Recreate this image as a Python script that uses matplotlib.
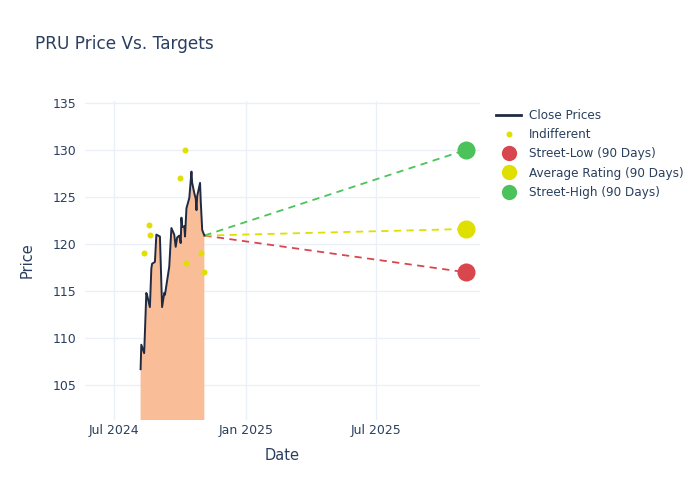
import matplotlib
matplotlib.use("Agg")
import matplotlib.pyplot as plt
import matplotlib.dates as mdates
from matplotlib.lines import Line2D
import pandas as pd

# close prices (traced)
close_dates = ["2024-08-07", "2024-08-08", "2024-08-12", "2024-08-15", "2024-08-16",
               "2024-08-20", "2024-08-22", "2024-08-23", "2024-08-27", "2024-08-29",
               "2024-09-03", "2024-09-06", "2024-09-09", "2024-09-10", "2024-09-16",
               "2024-09-19", "2024-09-23", "2024-09-25", "2024-09-27", "2024-09-30",
               "2024-10-02", "2024-10-03", "2024-10-04", "2024-10-07", "2024-10-08",
               "2024-10-10", "2024-10-14", "2024-10-17", "2024-10-18", "2024-10-21",
               "2024-10-23", "2024-10-24", "2024-10-25", "2024-10-29", "2024-10-30",
               "2024-11-01", "2024-11-04"]
close_prices = [106.7, 109.3, 108.4, 114.8, 114.6,
                113.3, 117.4, 117.9, 118.1, 121.0,
                120.8, 113.3, 114.8, 114.6, 117.6,
                121.7, 121.0, 119.7, 120.7, 120.9,
                120.1, 122.8, 121.8, 121.9, 120.8,
                123.8, 124.9, 127.7, 126.5, 125.4,
                124.8, 123.6, 125.1, 126.5, 124.5,
                121.5, 120.9]

# analyst ratings: Indifferent
ind_dates = ["2024-08-12", "2024-08-19", "2024-08-20", "2024-10-01", "2024-10-08",
             "2024-10-09", "2024-10-31", "2024-11-04"]
ind_prices = [119, 122, 121, 127, 130, 118, 119, 117]

# 90 day targets
target_date = "2025-11-04"
target_names = ["Street-Low (90 Days)", "Average Rating (90 Days)", "Street-High (90 Days)"]
target_values = [117.0, 121.6, 130.0]
target_colors = ["#d9474e", "#dfdf00", "#4cc35a"]

x_range = ["2024-05-21", "2025-11-24"]
y_range = [101.3, 135.2]

cd = pd.to_datetime(close_dates)
idt = pd.to_datetime(ind_dates)
td = pd.to_datetime(target_date)

text_c = "#2a3f5f"
grid_c = "#ebf0f8"

fig = plt.figure(figsize=(7, 5), dpi=100)
ax = fig.add_axes([0.121, 0.16, 0.565, 0.638])

ax.fill_between(cd, close_prices, 0, color="#f9bd98", lw=0, zorder=1)
ax.plot(cd, close_prices, color="#1f2a44", lw=1.4, zorder=3)
ax.plot(idt, ind_prices, "o", color="#dfdf00", ms=4.3, mec="none", zorder=4)

for name, v, c in zip(target_names, target_values, target_colors):
    ax.plot([cd[-1], td], [close_prices[-1], v], ls=(0, (4, 3)), color=c, lw=1.3, zorder=2)
    ax.plot([td], [v], "o", color=c, ms=13, mec="none", zorder=5)

ax.set_xlim(pd.to_datetime(x_range[0]), pd.to_datetime(x_range[1]))
ax.set_ylim(*y_range)
ax.set_yticks([105, 110, 115, 120, 125, 130, 135])
ax.set_xticks(pd.to_datetime(["2024-07-01", "2025-01-01", "2025-07-01"]))
ax.xaxis.set_major_formatter(mdates.DateFormatter("%b %Y"))
ax.grid(True, color=grid_c, lw=1)
ax.set_axisbelow(True)
for s in ax.spines.values():
    s.set_visible(False)
ax.tick_params(length=0, colors=text_c, labelsize=9, pad=6)
ax.tick_params(axis="x", pad=3)
ax.set_xlabel("Date", color=text_c, fontsize=10.5, labelpad=8)
ax.set_ylabel("Price", color=text_c, fontsize=10.5, labelpad=13)

fig.text(0.05, 0.912, "PRU Price Vs. Targets", color=text_c, fontsize=12.2, va="center")

handles = [Line2D([], [], color="#1f2a44", lw=2),
           Line2D([], [], ls="none", marker="o", color="#dfdf00", ms=4.3, mec="none")]
for c in target_colors:
    handles.append(Line2D([], [], ls="none", marker="o", color=c, ms=11, mec="none"))
labels = ["Close Prices", "Indifferent"] + target_names
leg = fig.legend(handles, labels, loc="upper left", bbox_to_anchor=(0.702, 0.792),
                 frameon=False, fontsize=8.65, labelspacing=0.52, handlelength=2.1,
                 handletextpad=0.6, borderaxespad=0)
for t in leg.get_texts():
    t.set_color(text_c)

fig.savefig("out.png", dpi=100)
